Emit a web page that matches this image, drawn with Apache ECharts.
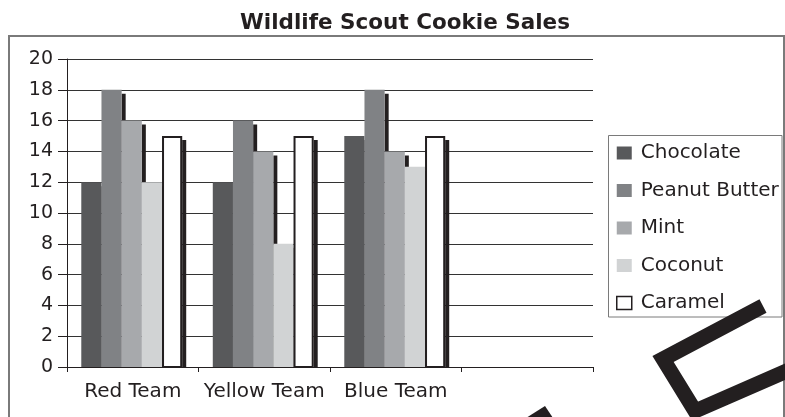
<!DOCTYPE html>
<html>
<head>
<meta charset="utf-8">
<script src="https://cdn.jsdelivr.net/npm/echarts@6/dist/echarts.min.js"></script>
<style>
html,body{margin:0;padding:0;background:#fff;}
#chart{width:785px;height:417px;}
</style>
</head>
<body>
<div id="chart"></div>
<script>
// ---- data ----
const categories = ['Red Team', 'Yellow Team', 'Blue Team', ''];
const seriesNames = ['Chocolate', 'Peanut Butter', 'Mint', 'Coconut', 'Caramel'];
const chocolate = [12, 12, 15];
const peanutButter = [18, 16, 18];
const mint = [16, 14, 14];
const coconut = [12, 8, 13];
const caramel = [15, 15, 15];
const yTicks = [0, 2, 4, 6, 8, 10, 12, 14, 16, 18, 20];

const seriesValues = [chocolate, peanutButter, mint, coconut, caramel];
const fills = ['#58595b', '#808285', '#a7a9ac', '#d1d3d4', '#ffffff'];
const INK = '#231f20';
const FONT = 'DejaVu Sans';

const chart = echarts.init(document.getElementById('chart'), null, {renderer: 'canvas'});

function makeRender(idx) {
  return function (params, api) {
    const c = api.value(0), v = api.value(1);
    const band = api.size([1, 0])[0];
    const bw = band * 0.1535;
    const base = api.coord([c, 0]);
    const top = api.coord([c, v]);
    const x = base[0] - 2.5 * bw + idx * bw - 1;
    const y0 = base[1], y1 = top[1];
    const children = [{
      type: 'rect',
      shape: {x: x + bw, y: y1 + 4, width: 4, height: Math.max(0, y0 - y1 - 4)},
      style: {fill: INK}
    }];
    if (idx === 4) {
      children.push({
        type: 'rect',
        shape: {x: x + 1, y: y1 + 1, width: bw - 2, height: y0 - y1 - 1},
        style: {fill: '#ffffff', stroke: INK, lineWidth: 2}
      });
    } else {
      children.push({
        type: 'rect',
        shape: {x: x, y: y1, width: bw, height: y0 - y1},
        style: {fill: fills[idx]}
      });
    }
    return {type: 'group', children: children};
  };
}

const series = seriesNames.map(function (name, i) {
  return {
    name: name,
    type: 'custom',
    renderItem: makeRender(i),
    encode: {x: 0, y: 1},
    itemStyle: i === 4 ? {color: '#ffffff', borderColor: INK, borderWidth: 1.5} : {color: fills[i]},
    data: seriesValues[i].map(function (v, k) { return [k, v]; })
  };
});

const option = {
  animation: false,
  backgroundColor: '#ffffff',
  title: {
    text: 'Wildlife Scout Cookie Sales',
    left: 400,
    textAlign: 'center',
    top: 6,
    textStyle: {fontFamily: FONT, fontWeight: 'bold', fontSize: 21.5, color: INK, lineHeight: 24}
  },
  grid: {left: 67, right: 192, top: 59, bottom: 50, containLabel: false},
  legend: {
    orient: 'vertical',
    left: 616,
    top: 143,
    padding: 0,
    itemWidth: 15,
    itemHeight: 13,
    itemGap: 17.5,
    data: seriesNames.map(function (n, i) {
      return {
        name: n,
        icon: 'rect',
        itemStyle: i === 4 ? {color: '#ffffff', borderColor: INK, borderWidth: 1.5} : {color: fills[i], borderWidth: 0}
      };
    }),
    textStyle: {fontFamily: FONT, fontSize: 20, color: INK, lineHeight: 20, padding: [0, 0, 0, 4]}
  },
  xAxis: {
    type: 'category',
    data: categories,
    boundaryGap: true,
    axisLine: {lineStyle: {color: INK, width: 1}},
    axisTick: {show: true, length: 5, interval: 0, lineStyle: {color: INK}},
    axisLabel: {fontFamily: FONT, fontSize: 20, color: INK, margin: 15, interval: 0, hideOverlap: false},
    splitLine: {show: false}
  },
  yAxis: {
    type: 'value',
    min: yTicks[0],
    max: yTicks[yTicks.length - 1],
    interval: 2,
    axisLine: {show: true, lineStyle: {color: INK, width: 1}},
    axisTick: {show: true, length: 9, lineStyle: {color: INK}},
    axisLabel: {fontFamily: FONT, fontSize: 19, color: INK, margin: 14},
    splitLine: {show: true, lineStyle: {color: '#333333', width: 1}}
  },
  graphic: [
    {
      type: 'rect', z: 100, silent: true,
      shape: {x: 9, y: 36, width: 775, height: 420},
      style: {fill: null, stroke: '#7a7a7a', lineWidth: 2}
    },
    {
      type: 'rect', z: 100, silent: true,
      shape: {x: 608.5, y: 135.5, width: 173.5, height: 181.5},
      style: {fill: null, stroke: '#7a7a7a', lineWidth: 1}
    },
    {
      type: 'polyline', z: 200, silent: true,
      shape: {points: [[763, 306], [663, 359], [695, 411], [805, 363]]},
      style: {stroke: INK, lineWidth: 15, lineJoin: 'miter', fill: null}
    },
    {
      type: 'polygon', z: 200, silent: true,
      shape: {points: [[526, 418], [545, 406], [553, 418]]},
      style: {fill: INK}
    }
  ],
  series: series
};
chart.setOption(option);
</script>
</body>
</html>
